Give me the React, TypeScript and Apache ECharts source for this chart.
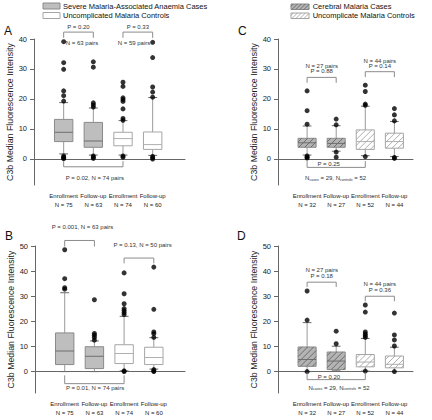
import React, { useEffect, useRef } from 'react';
import * as echarts from 'echarts';

const FONT = '"Liberation Sans", Arial, Helvetica, sans-serif';

// ---------- data ----------
const categories = ['Enrollment', 'Follow-up', 'Enrollment', 'Follow-up'];
const nLabelsAB = ['N = 75', 'N = 63', 'N = 74', 'N = 60'];
const nLabelsCD = ['N = 32', 'N = 27', 'N = 52', 'N = 44'];
const yTicksAC = [0, 10, 20, 30, 40];
const yTicksBD = [0, 10, 20, 30, 40, 50];

// [low whisker, Q1, median, Q3, high whisker] per category
const boxesA = [
  [1.7, 5.8, 8.9, 13.2, 18.8],
  [1.3, 3.9, 6.0, 12.2, 17.0],
  [1.3, 4.4, 6.8, 8.9, 12.8],
  [1.2, 3.2, 4.8, 9.0, 20.5],
];
const outliersA = [
  [39.1, 32.1, 29.9, 22.7, 21.1, 19.3, 1.0, 0.6, 0.3, 0.1],
  [32.4, 30.6, 18.7, 18.0, 17.3, 1.0, 0.6, 0.2],
  [25.6, 24.2, 20.4, 19.8, 19.2, 16.7, 13.5, 12.9, 1.0, 0.6],
  [38.9, 33.8, 24.0, 22.3, 20.6, 0.9, 0.4, 0.0],
];
const boxesB = [
  [0.0, 2.8, 8.2, 15.4, 31.4],
  [0.0, 1.2, 6.1, 9.9, 12.2],
  [0.3, 3.2, 7.2, 10.7, 22.0],
  [1.0, 2.8, 5.6, 9.7, 13.5],
];
const outliersB = [
  [48.5, 37.0, 33.4, 32.8],
  [28.6, 15.2, 14.5, 13.6, 12.5],
  [39.3, 31.0, 27.0, 25.1, 24.3, 23.5, 22.7, 0.3, 0.0],
  [41.6, 24.8, 15.8, 15.1, 13.6, 0.8, 0.3, 0.0],
];
const boxesC = [
  [1.3, 3.9, 5.4, 6.9, 11.0],
  [2.6, 3.9, 5.2, 6.9, 11.1],
  [1.1, 3.2, 5.8, 9.7, 17.6],
  [0.8, 3.6, 5.8, 8.6, 12.5],
];
const outliersC = [
  [22.7, 16.1, 11.6, 1.0, 0.6, 0.3],
  [13.3, 11.4, 2.3, 0.6],
  [24.6, 22.5, 18.3, 17.9, 0.8],
  [16.8, 14.7, 12.7, 0.5, 0.2],
];
const boxesD = [
  [0.0, 2.1, 4.8, 9.8, 19.5],
  [0.3, 0.8, 4.2, 7.8, 10.1],
  [0.2, 1.9, 3.8, 6.8, 13.2],
  [0.0, 1.5, 2.9, 6.2, 9.7],
];
const outliersD = [
  [32.1, 20.5, 0.0],
  [16.1, 11.1],
  [26.5, 23.7, 15.8, 15.0, 14.3, 13.6, 0.2],
  [23.3, 14.6, 12.6, 10.2, 0.0],
];

// comparison brackets: [from category, to category, bar level, end level]
const bracketsA = [[1, 2, 42.3, 40.4], [3, 4, 42.3, 40.4], [1, 3, -2.6, -0.7]];
const bracketsB = [[1, 2, 52.2, 49.8], [3, 4, 45.2, 43.1], [1, 3, -4.8, -1.5]];
const bracketsC = [[1, 2, 27.2, 25.4], [3, 4, 29.1, 27.3], [1, 3, -2.8, -0.7]];
const bracketsD = [[1, 2, 35.6, 33.7], [3, 4, 30.0, 28.0], [1, 3, -3.2, -0.4]];

const NSUB = '{a|N}{s|cases}{a| = 29, N}{s|controls}{a| = 52}';
// annotation texts: [x, y, text]
const notesA: [number, number, string][] = [
  [1.5, 43.9, 'P = 0.20'], [1.62, 38.6, 'N = 63 pairs'],
  [3.5, 43.9, 'P = 0.33'], [3.37, 38.6, 'N = 59 pairs'],
  [2.05, -6.2, 'P = 0.02, N = 74 pairs'],
];
const notesB: [number, number, string][] = [
  [1.6, 57.5, 'P = 0.001, N = 63 pairs'],
  [3.62, 50.5, 'P = 0.13, N = 50 pairs'],
  [2.02, -6.6, 'P = 0.01, N = 74 pairs'],
];
const notesC: [number, number, string][] = [
  [1.5, 31.0, 'N = 27 pairs'], [1.5, 29.3, 'P = 0.88'],
  [3.5, 32.7, 'N = 44 pairs'], [3.5, 31.0, 'P = 0.14'],
  [1.74, -1.8, 'P = 0.25'], [1.98, -6.4, NSUB],
];
const notesD: [number, number, string][] = [
  [1.5, 40.6, 'N = 27 pairs'], [1.5, 38.0, 'P = 0.18'],
  [3.5, 34.7, 'N = 44 pairs'], [3.5, 32.3, 'P = 0.36'],
  [1.75, -2.1, 'P = 0.20'], [2.1, -6.5, NSUB],
];

// ---------- helpers ----------
function hatchSegs(x0: number, y0: number, x1: number, y1: number, step: number) {
  const segs: number[][] = [];
  for (let c = x0 + y0 + step * 0.6; c < x1 + y1; c += step) {
    const xa = Math.max(x0, c - y1);
    const xb = Math.min(x1, c - y0);
    if (xb > xa) segs.push([xa, c - xa, xb, c - xb]);
  }
  return segs;
}

const CASE_FILL = '#bebebe';
const CASE_FILL_H = '#b4b4b4';
const CASE_STROKE = '#8a8a8a';
const CTRL_STROKE = '#a6a6a6';

function boxRenderer(hatched: boolean) {
  return (params: any, api: any) => {
    const c = api.value(0);
    const kind = api.value(6);
    const pLow = api.coord([c, api.value(1)]);
    const pQ1 = api.coord([c, api.value(2)]);
    const pMed = api.coord([c, api.value(3)]);
    const pQ3 = api.coord([c, api.value(4)]);
    const pHigh = api.coord([c, api.value(5)]);
    const unit = api.size([1, 0])[0];
    const hw = unit * 0.31;
    const cw = unit * 0.15;
    const x = pLow[0];
    const isCase = kind === 0;
    const fill = isCase ? (hatched ? CASE_FILL_H : CASE_FILL) : '#ffffff';
    const stroke = isCase ? CASE_STROKE : CTRL_STROKE;
    const children: any[] = [
      { type: 'line', shape: { x1: x, y1: pLow[1], x2: x, y2: pQ1[1] }, style: { stroke: '#9a9a9a', lineWidth: 1 } },
      { type: 'line', shape: { x1: x, y1: pQ3[1], x2: x, y2: pHigh[1] }, style: { stroke: '#9a9a9a', lineWidth: 1 } },
      { type: 'line', shape: { x1: x - cw, y1: pLow[1], x2: x + cw, y2: pLow[1] }, style: { stroke: '#6a6a6a', lineWidth: 1 } },
      { type: 'line', shape: { x1: x - cw, y1: pHigh[1], x2: x + cw, y2: pHigh[1] }, style: { stroke: '#6a6a6a', lineWidth: 1 } },
      { type: 'rect', shape: { x: x - hw, y: pQ3[1], width: hw * 2, height: pQ1[1] - pQ3[1] }, style: { fill, stroke, lineWidth: 1 } },
    ];
    if (hatched) {
      hatchSegs(x - hw, pQ3[1], x + hw, pQ1[1], 6).forEach((s) => {
        children.push({ type: 'line', shape: { x1: s[0], y1: s[1], x2: s[2], y2: s[3] }, style: { stroke: isCase ? '#5a5a5a' : '#9a9a9a', lineWidth: 0.8 } });
      });
    }
    children.push({ type: 'line', shape: { x1: x - hw, y1: pMed[1], x2: x + hw, y2: pMed[1] }, style: { stroke: isCase ? '#6e6e6e' : '#b0b0b0', lineWidth: 1 } });
    return { type: 'group', children };
  };
}

function bracketRenderer(params: any, api: any) {
  const a = api.coord([api.value(0), api.value(2)]);
  const b = api.coord([api.value(1), api.value(2)]);
  const ae = api.coord([api.value(0), api.value(3)]);
  const be = api.coord([api.value(1), api.value(3)]);
  return {
    type: 'polyline',
    shape: { points: [[ae[0], ae[1]], [a[0], a[1]], [b[0], b[1]], [be[0], be[1]]] },
    style: { stroke: '#8c8c8c', lineWidth: 1, fill: null },
  };
}

function noteRenderer(notes: [number, number, string][]) {
  return (params: any, api: any) => {
    const p = api.coord([api.value(0), api.value(1)]);
    return {
      type: 'text',
      x: p[0],
      y: p[1],
      style: {
        text: notes[params.dataIndex][2],
        fontSize: 6,
        fontFamily: FONT,
        fill: '#333',
        align: 'center',
        verticalAlign: 'middle',
        rich: {
          a: { fontSize: 6, fontFamily: FONT, fill: '#333', lineHeight: 8 },
          s: { fontSize: 3.6, fontFamily: FONT, fill: '#333', lineHeight: 8, padding: [3, 0, 0, 0] },
        },
      },
    };
  };
}

const panels = [
  { grid: { left: 34, top: 39, width: 151, height: 146 }, xMax: 5.09, yMin: -8.67, yMax: 40, ticks: yTicksAC, ns: nLabelsAB, boxes: boxesA, outliers: outliersA, brackets: bracketsA, notes: notesA, hatched: false },
  { grid: { left: 35, top: 246, width: 150, height: 147 }, xMax: 5.05, yMin: -8.52, yMax: 50, ticks: yTicksBD, ns: nLabelsAB, boxes: boxesB, outliers: outliersB, brackets: bracketsB, notes: notesB, hatched: false },
  { grid: { left: 278, top: 39, width: 135, height: 146 }, xMax: 4.64, yMin: -8.67, yMax: 40, ticks: yTicksAC, ns: nLabelsCD, boxes: boxesC, outliers: outliersC, brackets: bracketsC, notes: notesC, hatched: true },
  { grid: { left: 278, top: 246, width: 135, height: 147 }, xMax: 4.64, yMin: -8.52, yMax: 50, ticks: yTicksBD, ns: nLabelsCD, boxes: boxesD, outliers: outliersD, brackets: bracketsD, notes: notesD, hatched: true },
];

function legendHatch(x: number, y: number, w: number, h: number, color: string) {
  return hatchSegs(x, y, x + w, y + h, 4).map((s) => ({
    type: 'line', shape: { x1: s[0], y1: s[1], x2: s[2], y2: s[3] }, style: { stroke: color, lineWidth: 0.8 },
  }));
}

function buildOption() {
  const axisLineStyle = { color: '#666', width: 1 };
  const grid = panels.map((p) => ({ ...p.grid, containLabel: false, outerBoundsMode: 'none' }));
  const xAxis = panels.map((p, i) => ({
    type: 'value', gridIndex: i, min: 0, max: p.xMax,
    axisLine: { show: true, lineStyle: axisLineStyle },
    axisTick: { show: false },
    splitLine: { show: false },
    axisLabel: {
      customValues: [1, 2, 3, 4],
      formatter: (v: number) => { const k = Math.round(v); return k >= 1 && k <= 4 ? `${categories[k - 1]}\n${p.ns[k - 1]}` : ''; },
      fontSize: 6, lineHeight: 9.5, margin: 6, color: '#222', fontFamily: FONT,
    },
  }));
  const yAxis = panels.map((p, i) => ({
    type: 'value', gridIndex: i, min: p.yMin, max: p.yMax,
    name: 'C3b Median Fluorescence Intensity', nameLocation: 'middle', nameGap: 17,
    nameTextStyle: { fontSize: 8.8, color: '#222', fontFamily: FONT },
    axisLine: { show: true, lineStyle: axisLineStyle },
    axisTick: { show: true, length: 4, customValues: p.ticks, lineStyle: axisLineStyle },
    axisLabel: { customValues: p.ticks, fontSize: 7.5, margin: 7, color: '#222', fontFamily: FONT },
    splitLine: { show: false },
  }));
  const series: any[] = [];
  panels.forEach((p, i) => {
    series.push({
      type: 'custom', xAxisIndex: i, yAxisIndex: i, clip: false, z: 2,
      renderItem: boxRenderer(p.hatched),
      encode: { x: 0, y: [1, 2, 3, 4, 5] },
      data: p.boxes.map((b, k) => [k + 1, ...b, k < 2 ? 0 : 1]),
    });
    const pts: number[][] = [];
    p.outliers.forEach((arr, k) => arr.forEach((v) => pts.push([k + 1, v])));
    series.push({
      type: 'scatter', xAxisIndex: i, yAxisIndex: i, z: 3, symbol: 'circle', symbolSize: 5,
      itemStyle: { color: '#000' }, data: pts,
    });
    series.push({
      type: 'custom', xAxisIndex: i, yAxisIndex: i, clip: false, z: 4,
      renderItem: bracketRenderer, data: p.brackets,
    });
    series.push({
      type: 'custom', xAxisIndex: i, yAxisIndex: i, clip: false, z: 5,
      renderItem: noteRenderer(p.notes), data: p.notes.map((n) => [n[0], n[1]]),
    });
  });

  const txt = (x: number, y: number, text: string, size: number) => ({
    type: 'text', x, y, style: { text, fontSize: size, fontFamily: FONT, fill: '#111', verticalAlign: 'middle' },
  });
  const graphic: any[] = [
    txt(4, 31, 'A', 12), txt(5, 236, 'B', 12), txt(238, 31, 'C', 12), txt(237, 236, 'D', 12),
    { type: 'rect', shape: { x: 43, y: 3, width: 17, height: 6 }, style: { fill: CASE_FILL, stroke: CASE_STROKE, lineWidth: 1 } },
    txt(63, 6.3, 'Severe Malaria-Associated Anaemia Cases', 7.5),
    { type: 'rect', shape: { x: 43, y: 12.5, width: 17, height: 6 }, style: { fill: '#fff', stroke: CTRL_STROKE, lineWidth: 1 } },
    txt(63, 15.6, 'Uncomplicated Malaria Controls', 7.5),
    { type: 'rect', shape: { x: 291, y: 4, width: 18, height: 5.5 }, style: { fill: CASE_FILL_H, stroke: CASE_STROKE, lineWidth: 1 } },
    ...legendHatch(291, 4, 18, 5.5, '#5a5a5a'),
    txt(312.7, 6.8, 'Cerebral Malaria Cases', 7.5),
    { type: 'rect', shape: { x: 291, y: 13, width: 18, height: 5.5 }, style: { fill: '#fff', stroke: CTRL_STROKE, lineWidth: 1 } },
    ...legendHatch(291, 13, 18, 5.5, '#9a9a9a'),
    txt(312.7, 15.8, 'Uncomplicate Malaria Controls', 7.5),
  ];

  return { animation: false, backgroundColor: '#fff', grid, xAxis, yAxis, series, graphic };
}

export default function App() {
  const ref = useRef<HTMLDivElement>(null);
  useEffect(() => {
    if (!ref.current) return;
    const chart = echarts.init(ref.current, undefined, { renderer: 'svg' });
    chart.setOption(buildOption() as any);
    return () => chart.dispose();
  }, []);
  return <div ref={ref} style={{ position: 'fixed', left: 0, top: 0, width: 432, height: 420 }} />;
}
